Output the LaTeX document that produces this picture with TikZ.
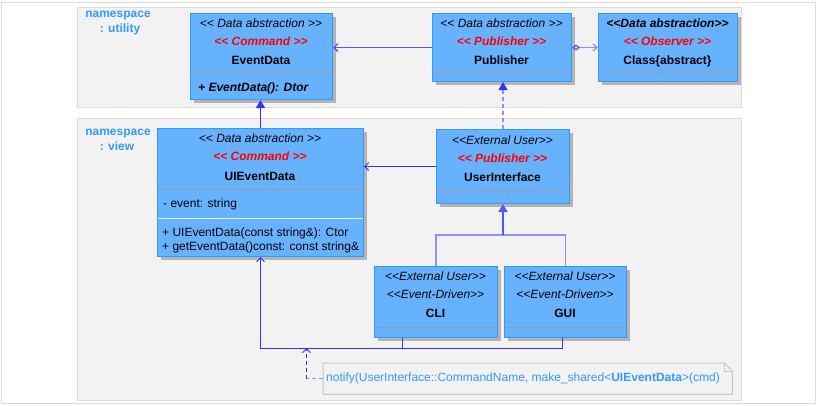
\documentclass[tikz,border=0pt]{standalone}
\usepackage{fontspec}
\setmainfont{Liberation Sans}[Ligatures=TeXOff]
\usetikzlibrary{arrows.meta,calc,shadows}
\definecolor{boxfill}{HTML}{66B2FF}
\definecolor{boxline}{HTML}{3399FF}
\definecolor{shadowc}{HTML}{B4B4B4}
\definecolor{pkgfill}{HTML}{F2F2F2}
\definecolor{pkgline}{HTML}{DCDCDC}
\definecolor{nsblue}{HTML}{3399FF}
\definecolor{stred}{HTML}{FF0000}
\definecolor{darkcon}{HTML}{3333FF}
\definecolor{midcon}{HTML}{5555FF}
\definecolor{lightcon}{HTML}{8F8FFF}
\definecolor{sepgray}{HTML}{9A9A9A}
\definecolor{notegray}{HTML}{C8C8C8}
\newcommand\lsg{<\kern0pt<}
\newcommand\rsg{>\kern0pt>}
\begin{document}
\begin{tikzpicture}[x=1pt,y=-1pt,
  every node/.style={font=\fontsize{12}{14}\selectfont},
  pkg/.style={draw=pkgline, fill=pkgfill, line width=1pt, anchor=north west, inner sep=0},
  umlbox/.style={draw=boxline, fill=boxfill, line width=1pt, anchor=north west, inner sep=0,
    drop shadow={shadow xshift=3.5pt, shadow yshift=-3.5pt, fill=shadowc, opacity=1}},
  txt/.style={inner sep=0, anchor=base},
  ster/.style={txt, font=\fontsize{12}{14}\selectfont\itshape},
  bster/.style={txt, font=\fontsize{12}{14}\selectfont\bfseries\itshape},
  rster/.style={txt, text=stred, font=\fontsize{12}{14}\selectfont\bfseries\itshape},
  cname/.style={txt, font=\fontsize{12}{14}\selectfont\bfseries},
  member/.style={inner sep=0, anchor=base west},
  ns/.style={inner sep=0, anchor=base, text=nsblue, font=\fontsize{12}{14}\selectfont\bfseries},
  sep/.style={draw=sepgray, line width=1.2pt},
  wsep/.style={draw=white!85!sepgray, line width=1.2pt},
  openarrow/.style={-{Straight Barb[length=4,width=8]}},
  triarrow/.style={-{Triangle[length=8,width=9]}}
]
\useasboundingbox (0,0) rectangle (817,405);
\draw[pkgline, line width=1pt] (1,2) rectangle (815,403);

% packages
\node[pkg, minimum width=664, minimum height=100] (utilpkg) at (77,7) {};
\node[pkg, minimum width=664, minimum height=282] (viewpkg) at (77,118) {};
\node[ns] (nsu1) at (118,17.5) {namespace};
\node[ns] (nsu2) at (120,32.5) {: utility};
\node[ns] (nsv1) at (118,135.5) {namespace};
\node[ns] (nsv2) at (117,150) {: view};

% EventData
\node[umlbox, minimum width=142, minimum height=86] (eventdata) at (190,13) {};
\draw[sep] (190.5,73.5) -- (331.5,73.5);
\node[ster] (ed1) at (261,27) {\lsg{} Data abstraction \rsg};
\node[rster] (ed2) at (261,45) {\lsg{} Command \rsg};
\node[cname] (ed3) at (261,64) {EventData};
\node[member, font=\fontsize{12}{14}\selectfont\bfseries\itshape] (ed4) at (198,91) {+ EventData(): Dtor};

% Publisher
\node[umlbox, minimum width=139, minimum height=68] (publisher) at (432,13) {};
\draw[sep] (432.5,73.5) -- (570.5,73.5);
\node[ster] (pb1) at (501.5,27) {\lsg{} Data abstraction \rsg};
\node[rster] (pb2) at (501.5,45) {\lsg{} Publisher \rsg};
\node[cname] (pb3) at (501.5,64) {Publisher};

% Class{abstract}
\node[umlbox, minimum width=139, minimum height=68] (class) at (598,13) {};
\draw[sep] (598.5,73.5) -- (736.5,73.5);
\node[bster] (cl1) at (667.5,27) {\lsg Data abstraction\rsg};
\node[rster] (cl2) at (667.5,45) {\lsg{} Observer \rsg};
\node[cname] (cl3) at (667.5,64) {Class\{abstract\}};

% UIEventData
\node[umlbox, minimum width=206, minimum height=128] (uievent) at (157,128) {};
\draw[sep] (157.5,189.5) -- (362.5,189.5);
\draw[wsep] (157.5,218.5) -- (362.5,218.5);
\node[ster] (ue1) at (260,142) {\lsg{} Data abstraction \rsg};
\node[rster] (ue2) at (260,160) {\lsg{} Command \rsg};
\node[cname] (ue3) at (260,180) {UIEventData};
\node[member] (ue4) at (163,207) {- event: string};
\node[member] (ue5) at (162,236) {+ UIEventData(const string\&): Ctor};
\node[member] (ue6) at (162,250) {+ getEventData()const: const string\&};

% UserInterface
\node[umlbox, minimum width=133, minimum height=74] (ui) at (436,129) {};
\draw[sep] (436.5,190.5) -- (568.5,190.5);
\node[ster] (ui1) at (502.5,144) {\lsg External User\rsg};
\node[rster] (ui2) at (502.5,162) {\lsg{} Publisher \rsg};
\node[cname] (ui3) at (502.5,181) {UserInterface};

% CLI
\node[umlbox, minimum width=123, minimum height=71] (cli) at (374,266) {};
\draw[sep] (374.5,327.5) -- (496.5,327.5);
\node[ster] (cli1) at (435.5,280) {\lsg External User\rsg};
\node[ster] (cli2) at (435.5,298) {\lsg Event-Driven\rsg};
\node[cname] (cli3) at (435.5,317) {CLI};

% GUI
\node[umlbox, minimum width=122, minimum height=71] (gui) at (504,266) {};
\draw[sep] (504.5,327.5) -- (625.5,327.5);
\node[ster] (gui1) at (565,280) {\lsg External User\rsg};
\node[ster] (gui2) at (565,298) {\lsg Event-Driven\rsg};
\node[cname] (gui3) at (565,317) {GUI};

% note
\node[inner sep=0, anchor=north west, minimum width=409, minimum height=31] (note) at (323,363) {};
\draw[draw=notegray, fill=pkgfill, line width=1pt]
  (note.north west) -- ($(note.north east)+(-8,0)$) -- ($(note.north east)+(0,8)$)
  -- (note.south east) -- (note.south west) -- cycle;
\draw[draw=notegray, line width=0.8pt] ($(note.north east)+(-8,0)$) -- ($(note.north east)+(-8,8)$) -- ($(note.north east)+(0,8)$);
\node[member, text=nsblue] (notetext) at (326,381)
  {notify(UserInterface::CommandName, make\_shared<\textbf{UIEventData}>(cmd)};

% connectors
\draw[midcon, line width=1.3pt, openarrow] (publisher.west) -- (publisher.west -| eventdata.east);
\draw[lightcon, line width=1.3pt, {Diamond[open,length=8,width=6,color=midcon]}-{Straight Barb[length=4,width=7]}]
  (publisher.east) -- (class.west);
\draw[darkcon, line width=1pt, triarrow] (uievent.north) -- (uievent.north |- eventdata.south);
\draw[darkcon, line width=1pt, openarrow] (ui.west) -- (ui.west -| uievent.east);
\draw[lightcon, line width=1.3pt, dash pattern=on 4pt off 3pt,
  -{Triangle[length=8,width=9,fill=darkcon,color=darkcon]}] (ui.north) -- (ui.north |- publisher.south);

\coordinate (junc) at ($(ui.south)+(0,31)$);
\draw[lightcon, line width=1.3pt] (cli.north) |- (junc) -| (gui.north);
\draw[midcon, line width=1.5pt, triarrow] (junc) -- (ui.south);

\coordinate (clib) at ($(cli.south west)+(28,0)$);
\coordinate (guib) at ($(gui.south west)+(58,0)$);
\coordinate (bus) at ($(uievent.south)+(0,91)$);
\draw[darkcon, line width=1pt] (clib) -- (clib |- bus);
\draw[darkcon, line width=1pt, openarrow] (guib) |- (bus) -- (uievent.south);

\coordinate (notetip) at ($(bus)+(46,0)$);
\draw[lightcon, line width=1.3pt, dash pattern=on 4pt off 3pt] (note.west) -- (note.west -| notetip);
\draw[darkcon, line width=1pt, dash pattern=on 4pt off 3pt, openarrow] (note.west -| notetip) -- (notetip);
\end{tikzpicture}
\end{document}
